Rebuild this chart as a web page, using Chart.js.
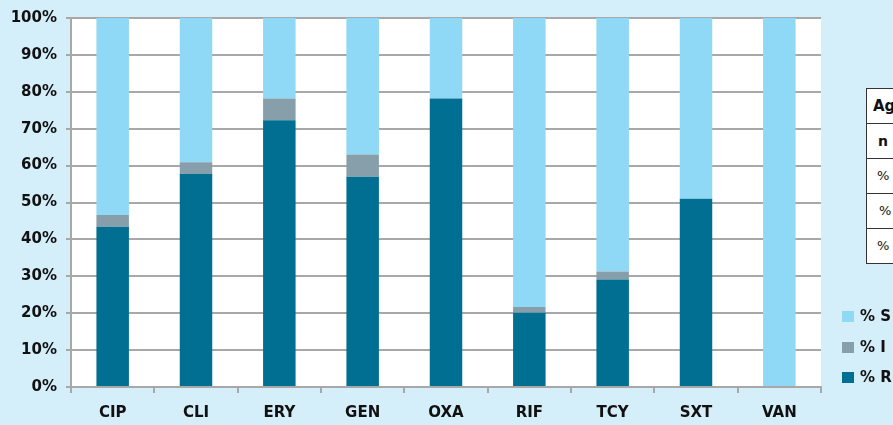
<!DOCTYPE html>
<html>
<head>
<meta charset="utf-8">
<script src="https://cdn.jsdelivr.net/npm/chart.js@4"></script>
<style>
  html, body { margin: 0; padding: 0; overflow: hidden; }
  body { width: 893px; height: 425px; background: #d4eefa; position: relative; font-family: "DejaVu Sans", sans-serif; }
  #wrap { position: absolute; left: 0; top: 0; width: 893px; height: 425px; }
  .leg { position: absolute; left: 842px; font: bold 15px "DejaVu Sans", sans-serif; color: #111; height: 18px; line-height: 18px; white-space: nowrap; }
  .leg span { display: inline-block; width: 12px; height: 11px; margin-right: 6px; vertical-align: -1px; }
  #tbl { position: absolute; left: 866px; top: 88px; width: 70px; background: #fff; border: 1.5px solid #333; }
  #tbl div { height: 34px; line-height: 34px; border-top: 1.5px solid #333; font-size: 13px; color: #111; white-space: nowrap; }
  #tbl div:first-child { border-top: none; font-weight: bold; font-size: 15px; }
</style>
</head>
<body>
<div id="wrap"><canvas id="resChart" width="893" height="425"></canvas></div>

<div id="tbl">
  <div style="padding-left:6px">Agent</div>
  <div style="padding-left:11px;font-weight:bold;font-size:14px">n</div>
  <div style="padding-left:10px">% S</div>
  <div style="padding-left:12px">% I</div>
  <div style="padding-left:10px">% R</div>
</div>

<div class="leg" style="top:307px"><span style="background:#8fd8f6"></span>% S</div>
<div class="leg" style="top:338px"><span style="background:#879faa"></span>% I</div>
<div class="leg" style="top:368px"><span style="background:#006f91"></span>% R</div>

<script>
// antibiotics
var categories = ['CIP', 'CLI', 'ERY', 'GEN', 'OXA', 'RIF', 'TCY', 'SXT', 'VAN'];
// percentages
var pctR = [43.4, 57.7, 72.3, 57.0, 78.2, 20.1, 29.1, 51.0, 0];
var pctI = [3.2, 3.2, 5.9, 6.0, 0, 1.6, 2.2, 0, 0];
var pctS = [53.4, 39.1, 21.8, 37.0, 21.8, 78.3, 68.7, 49.0, 100];
var yTicks = [0, 10, 20, 30, 40, 50, 60, 70, 80, 90, 100];

var gridGray = '#a8a8a8';

// white plot background
var plotBg = {
    id: 'plotBg',
    beforeDraw: function (chart) {
        var a = chart.chartArea;
        var c = chart.ctx;
        c.save();
        c.fillStyle = '#ffffff';
        c.fillRect(a.left, a.top, a.right - a.left, a.bottom - a.top);
        c.restore();
    }
};

var ctx = document.getElementById('resChart').getContext('2d');
var resChart = new Chart(ctx, {
    type: 'bar',
    data: {
        labels: categories,
        datasets: [
            { label: '% R', data: pctR, backgroundColor: '#006f91' },
            { label: '% I', data: pctI, backgroundColor: '#879faa' },
            { label: '% S', data: pctS, backgroundColor: '#8fd8f6' }
        ]
    },
    options: {
        responsive: false,
        animation: false,
        layout: { padding: { top: 16, right: 72, left: 0, bottom: 0 } },
        datasets: {
            bar: { categoryPercentage: 1, barPercentage: 0.39, borderWidth: 0 }
        },
        plugins: {
            legend: { display: false },
            tooltip: { enabled: false }
        },
        scales: {
            x: {
                stacked: true,
                afterFit: function (s) { s.height = 38; },
                grid: { offset: true, drawOnChartArea: false, drawTicks: true, tickLength: 6, color: gridGray, lineWidth: 2 },
                border: { color: gridGray, width: 2 },
                ticks: { color: '#111', padding: 11, font: { family: 'DejaVu Sans', size: 15, weight: 'bold' } }
            },
            y: {
                stacked: true,
                min: 0,
                max: 100,
                afterFit: function (s) { s.width = 71; },
                afterBuildTicks: function (s) { s.ticks = yTicks.map(function (v) { return { value: v }; }); },
                grid: { color: gridGray, lineWidth: 2, tickLength: 5 },
                border: { color: gridGray, width: 2 },
                ticks: {
                    color: '#111',
                    padding: 9,
                    font: { family: 'DejaVu Sans', size: 15, weight: 'bold' },
                    callback: function (v) { return v + '%'; }
                }
            }
        }
    },
    plugins: [plotBg]
});
</script>
</body>
</html>
